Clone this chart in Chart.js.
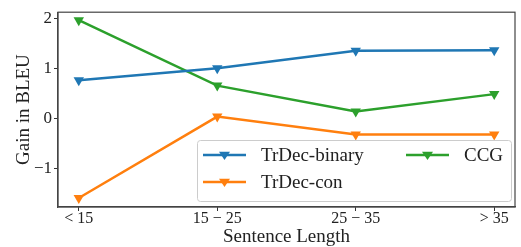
<!DOCTYPE html>
<html lang="en">
  <head>
    <meta charset="UTF-8" />
    <title>Gain in BLEU by sentence length</title>
    <script src="https://cdn.jsdelivr.net/npm/chart.js"></script>
    <style>
      html, body { margin: 0; padding: 0; background: #fff; }
      #wrap { width: 521px; height: 247px; }
    </style>
  </head>
  <body>
    <div id="wrap"><canvas id="gainChart" width="521" height="247"></canvas></div>

    <script>
      // data
      const lengthBins = ["< 15", "15 \u2212 25", "25 \u2212 35", "> 35"];
      const trdecBinary = [0.76, 1.0, 1.35, 1.36];
      const trdecCon = [-1.6, 0.03, -0.33, -0.33];
      const ccg = [1.96, 0.65, 0.13, 0.48];
      const yTicks = [-1, 0, 1, 2];

      const serif = "'Liberation Serif', 'DejaVu Serif', serif";

      const toPoints = (arr) => arr.map((v, i) => ({ x: i, y: v }));

      const series = [
        { label: "TrDec-binary", color: "#1f77b4", values: trdecBinary },
        { label: "TrDec-con", color: "#ff7f0e", values: trdecCon },
        { label: "CCG", color: "#2ca02c", values: ccg },
      ];

      // full box around the plot (matplotlib spines)
      const frame = {
        id: "frame",
        afterDraw(chart) {
          const a = chart.chartArea;
          const ctx = chart.ctx;
          ctx.save();
          ctx.strokeStyle = "#444";
          ctx.lineWidth = 1.2;
          ctx.strokeRect(a.left, a.top, a.right - a.left, a.bottom - a.top);
          ctx.restore();
        },
      };

      // legend drawn inside the plot, like matplotlib's (2 columns)
      const innerLegend = {
        id: "innerLegend",
        afterDraw(chart) {
          const ctx = chart.ctx;
          const box = { x: 197, y: 140, w: 314, h: 61 };
          ctx.save();
          ctx.fillStyle = "rgba(255,255,255,0.8)";
          ctx.strokeStyle = "#cccccc";
          ctx.lineWidth = 1;
          ctx.beginPath();
          ctx.roundRect(box.x + 0.5, box.y + 0.5, box.w, box.h, 3);
          ctx.fill();
          ctx.stroke();

          const slots = [
            { ds: 0, x: 203, y: 155 },
            { ds: 1, x: 203, y: 182 },
            { ds: 2, x: 406, y: 155 },
          ];
          ctx.font = "19px " + serif;
          ctx.textBaseline = "middle";
          slots.forEach((s) => {
            const ds = chart.data.datasets[s.ds];
            ctx.strokeStyle = ds.borderColor;
            ctx.lineWidth = 2.5;
            ctx.beginPath();
            ctx.moveTo(s.x, s.y);
            ctx.lineTo(s.x + 43, s.y);
            ctx.stroke();
            // down triangle marker
            const cx = s.x + 21.5, r = 5.5;
            ctx.fillStyle = ds.borderColor;
            ctx.beginPath();
            ctx.moveTo(cx - r, s.y - r * 0.6);
            ctx.lineTo(cx + r, s.y - r * 0.6);
            ctx.lineTo(cx, s.y + r * 0.9);
            ctx.closePath();
            ctx.fill();
            ctx.fillStyle = "#222";
            ctx.fillText(ds.label, s.x + 58, s.y + 1);
          });
          ctx.restore();
        },
      };

      const ctx = document.getElementById("gainChart").getContext("2d");
      new Chart(ctx, {
        type: "line",
        data: {
          datasets: series.map((s) => ({
            label: s.label,
            data: toPoints(s.values),
            borderColor: s.color,
            backgroundColor: s.color,
            borderWidth: 2.5,
            pointStyle: "triangle",
            pointRotation: 180,
            pointRadius: 6,
            pointBorderWidth: 0,
            fill: false,
            tension: 0,
          })),
        },
        options: {
          responsive: false,
          animation: false,
          layout: { padding: { top: 11, right: 1, left: 0, bottom: 0 } },
          plugins: {
            legend: { display: false },
            tooltip: { enabled: false },
          },
          scales: {
            x: {
              type: "linear",
              min: -0.15,
              max: 3.15,
              grid: {
                display: true,
                drawOnChartArea: false,
                drawTicks: true,
                tickLength: 4,
                color: "#333",
              },
              border: { color: "#444", width: 1.2 },
              afterBuildTicks: (scale) => {
                scale.ticks = lengthBins.map((_, i) => ({ value: i }));
              },
              afterFit: (scale) => {
                scale.height = 40;
              },
              ticks: {
                color: "#222",
                font: { family: serif, size: 16, lineHeight: 1 },
                padding: 0,
                maxRotation: 0,
                autoSkip: false,
                callback: (v) => lengthBins[v],
              },
              title: {
                display: true,
                text: "Sentence Length",
                color: "#222",
                font: { family: serif, size: 19, lineHeight: 1 },
                padding: { top: 0, bottom: 0 },
              },
            },
            y: {
              type: "linear",
              min: -1.78,
              max: 2.12,
              grid: {
                display: true,
                drawOnChartArea: false,
                drawTicks: true,
                tickLength: 4,
                color: "#333",
              },
              border: { color: "#444", width: 1.2 },
              afterBuildTicks: (scale) => {
                scale.ticks = yTicks.map((v) => ({ value: v }));
              },
              afterFit: (scale) => {
                scale.width = 58;
              },
              ticks: {
                color: "#222",
                font: { family: serif, size: 17 },
                padding: 2,
                callback: (v) => (v < 0 ? "\u2212" + Math.abs(v) : String(v)),
              },
              title: {
                display: true,
                text: "Gain in BLEU",
                color: "#222",
                font: { family: serif, size: 19 },
                padding: { top: 13, bottom: 0 },
              },
            },
          },
        },
        plugins: [frame, innerLegend],
      });
    </script>
  </body>
</html>
